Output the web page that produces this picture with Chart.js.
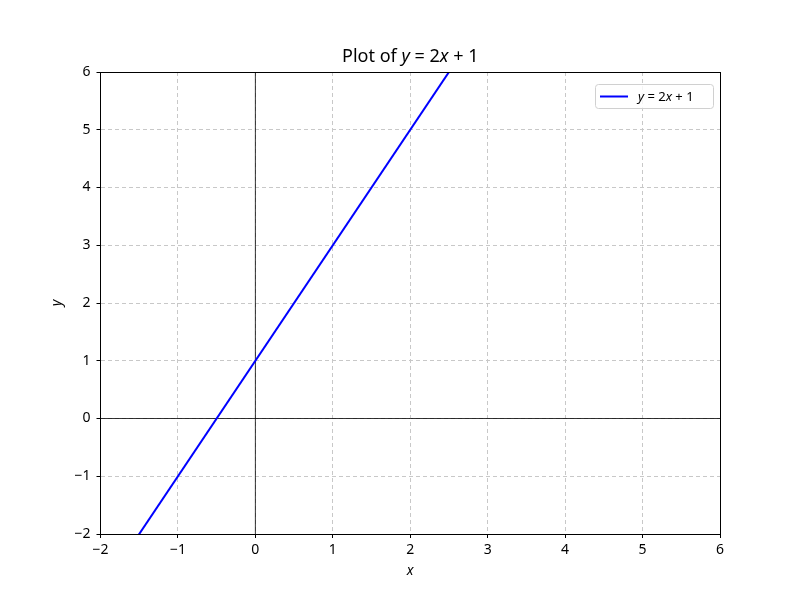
<!DOCTYPE html>
<html>
<head>
<meta charset="utf-8">
<script src="https://cdn.jsdelivr.net/npm/chart.js@4/dist/chart.umd.min.js"></script>
<style>
  body { margin: 0; background: #fff; }
  #wrap { width: 800px; height: 600px; }
</style>
</head>
<body>
<div id="wrap"><canvas id="chart"></canvas></div>
<script>
// line y = 2x + 1, sampled at the ends (clipped by the axes)
const lineX = [-10, 10];
const lineY = [-19, 21];
const xTicks = [-2, -1, 0, 1, 2, 3, 4, 5, 6];
const yTicks = [-2, -1, 0, 1, 2, 3, 4, 5, 6];
const lineLabel = 'y = 2x + 1';
const titleText = 'Plot of y = 2x + 1';

const FONT = "'Noto Sans', 'DejaVu Sans', sans-serif";

function minus(v) {
  return v < 0 ? '\u2212' + Math.abs(v) : String(v);
}

// draw "y = 2x + 1" style text with italic variables
function mathParts(text) {
  return text.split(/([xy])/).filter(s => s).map(s => [s, /^[xy]$/.test(s) ? 'italic' : 'normal']);
}

function drawMixed(ctx, parts, x, y, size, align) {
  let total = 0;
  parts.forEach(([t, st]) => {
    ctx.font = st + ' ' + size + 'px ' + FONT;
    total += ctx.measureText(t).width;
  });
  let tx = align === 'center' ? x - total / 2 : x;
  ctx.textAlign = 'left';
  parts.forEach(([t, st]) => {
    ctx.font = st + ' ' + size + 'px ' + FONT;
    ctx.fillText(t, tx, y);
    tx += ctx.measureText(t).width;
  });
}

// frame on all four sides, like the reference
const framePlugin = {
  id: 'frame',
  afterDatasetsDraw(chart) {
    const { ctx, chartArea: a } = chart;
    ctx.save();
    ctx.strokeStyle = '#000';
    ctx.lineWidth = 1;
    const l = Math.floor(a.left) + 0.5, t = Math.floor(a.top) + 0.5;
    ctx.strokeRect(l, t, Math.round(a.right) - l + 0.5, Math.round(a.bottom) - t + 0.5);
    ctx.restore();
  }
};

// title with italic math letters
const titlePlugin = {
  id: 'mathTitle',
  afterDraw(chart) {
    const { ctx, chartArea: a } = chart;
    ctx.save();
    ctx.fillStyle = '#000';
    ctx.textBaseline = 'middle';
    const parts = [['Plot of ', 'normal']].concat(mathParts(titleText.replace('Plot of ', '')));
    drawMixed(ctx, parts, (a.left + a.right) / 2, a.top - 15, 18, 'center');
    ctx.restore();
  }
};

// legend drawn inside the plot, top right
const legendPlugin = {
  id: 'innerLegend',
  afterDraw(chart) {
    const { ctx, chartArea: a } = chart;
    const ds = chart.data.datasets[0];
    const w = 118, h = 24;
    const x = Math.round(a.right) - 7 - w, y = Math.round(a.top) + 12;
    ctx.save();
    ctx.fillStyle = 'rgba(255,255,255,0.8)';
    ctx.strokeStyle = '#d0d0d0';
    ctx.lineWidth = 1;
    ctx.beginPath();
    ctx.roundRect(x + 0.5, y + 0.5, w, h, 3);
    ctx.fill();
    ctx.stroke();
    ctx.strokeStyle = ds.borderColor;
    ctx.lineWidth = 2;
    ctx.beginPath();
    ctx.moveTo(x + 5, y + 12.5);
    ctx.lineTo(x + 33, y + 12.5);
    ctx.stroke();
    ctx.fillStyle = '#000';
    ctx.textBaseline = 'middle';
    drawMixed(ctx, mathParts(ds.label), x + 43, y + 13, 13, 'left');
    ctx.restore();
  }
};

new Chart(document.getElementById('chart'), {
  type: 'scatter',
  data: {
    datasets: [
      {
        label: lineLabel,
        data: lineX.map((x, i) => ({ x, y: lineY[i] })),
        showLine: true,
        borderColor: '#0000ff',
        borderWidth: 2,
        pointRadius: 0,
        order: 0
      },
      {
        label: 'x axis',
        data: [{ x: xTicks[0], y: 0 }, { x: xTicks[xTicks.length - 1], y: 0 }],
        showLine: true,
        borderColor: '#000',
        borderWidth: 0.8,
        pointRadius: 0,
        order: 1
      },
      {
        label: 'y axis',
        data: [{ x: 0, y: yTicks[0] }, { x: 0, y: yTicks[yTicks.length - 1] }],
        showLine: true,
        borderColor: '#000',
        borderWidth: 0.8,
        pointRadius: 0,
        order: 1
      }
    ]
  },
  options: {
    responsive: true,
    maintainAspectRatio: false,
    animation: false,
    layout: { padding: { left: 36.5, right: 80, top: 72, bottom: 8 } },
    scales: {
      x: {
        type: 'linear',
        min: xTicks[0],
        max: xTicks[xTicks.length - 1],
        afterBuildTicks(scale) { scale.ticks = xTicks.map(v => ({ value: v })); },
        afterFit(scale) { scale.height = 58; },
        ticks: {
          color: '#000',
          font: { family: FONT, size: 14 },
          padding: 4,
          maxRotation: 0,
          callback: v => minus(v)
        },
        grid: { color: '#c8c8c8', lineWidth: 1, tickLength: 4, tickColor: '#000' },
        border: { color: '#000', dash: [4, 3] },
        title: {
          display: true,
          text: 'x',
          color: '#000',
          font: { family: FONT, size: 14, style: 'italic' },
          padding: { top: 0, bottom: 13 }
        }
      },
      y: {
        type: 'linear',
        min: yTicks[0],
        max: yTicks[yTicks.length - 1],
        afterBuildTicks(scale) { scale.ticks = yTicks.map(v => ({ value: v })); },
        afterFit(scale) { scale.width = 64; },
        ticks: {
          color: '#000',
          font: { family: FONT, size: 14 },
          padding: 6,
          callback: v => minus(v)
        },
        grid: { color: '#c8c8c8', lineWidth: 1, tickLength: 4, tickColor: '#000' },
        border: { color: '#000', dash: [4, 3] },
        title: {
          display: true,
          text: 'y',
          color: '#000',
          font: { family: FONT, size: 14, style: 'italic' },
          padding: { top: 12, bottom: 0 }
        }
      }
    },
    plugins: {
      legend: { display: false },
      tooltip: { enabled: false },
      title: { display: false }
    }
  },
  plugins: [framePlugin, titlePlugin, legendPlugin]
});
</script>
</body>
</html>
